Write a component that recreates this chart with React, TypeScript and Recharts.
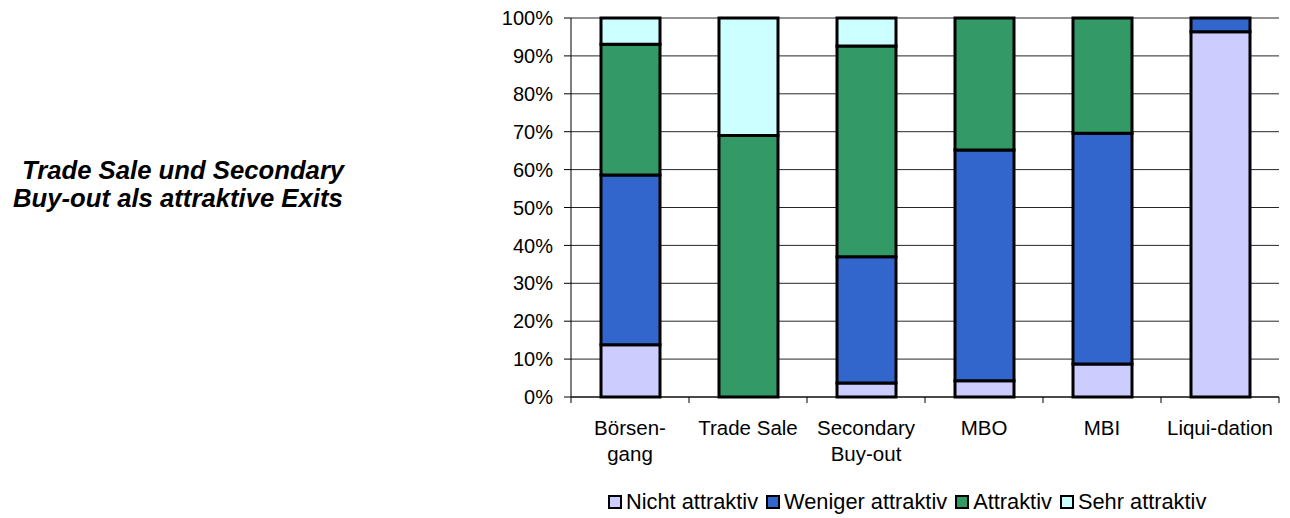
import { BarChart, Bar, XAxis, YAxis, CartesianGrid, Legend } from "recharts"

const categories = ["Börsen-\ngang", "Trade Sale", "Secondary\nBuy-out", "MBO", "MBI", "Liqui-dation"]
const nichtAttraktiv = [13.8, 0, 3.7, 4.3, 8.7, 96.4]
const wenigerAttraktiv = [44.8, 0, 33.3, 60.9, 60.9, 3.6]
const attraktiv = [34.5, 69.0, 55.6, 34.8, 30.4, 0]
const sehrAttraktiv = [6.9, 31.0, 7.4, 0, 0, 0]
const yTicks = [0, 10, 20, 30, 40, 50, 60, 70, 80, 90, 100]

const seriesKeys = ["nicht", "weniger", "attraktiv", "sehr"]
const seriesNames = ["Nicht attraktiv", "Weniger attraktiv", "Attraktiv", "Sehr attraktiv"]
const seriesColors = ["#CCCCFF", "#3366CC", "#339966", "#CCFFFF"]
const titleLines = ["Trade Sale und Secondary", "Buy-out als attraktive Exits"]

const data = categories.map((name, i) => ({
  name,
  nicht: nichtAttraktiv[i],
  weniger: wenigerAttraktiv[i],
  attraktiv: attraktiv[i],
  sehr: sehrAttraktiv[i],
}))

const font = "'Liberation Sans', Arial, sans-serif"

const chartWidth = 1282
const chartHeight = 510
const margin = { top: 10, right: 11, left: 503, bottom: 0 }
const yAxisWidth = 60
const plotWidth = chartWidth - margin.left - margin.right - yAxisWidth
const band = plotWidth / categories.length

function CategoryTick(props: any) {
  const { x, y, payload, index } = props
  const lines = String(payload.value).split("\n")
  const left = x - band / 2
  return (
    <g>
      <line x1={left} x2={left} y1={y} y2={y + 6} stroke="#000" />
      {index === categories.length - 1 && (
        <line x1={left + band} x2={left + band} y1={y} y2={y + 6} stroke="#000" />
      )}
      <text x={x} y={y + 38} textAnchor="middle" fill="#000" fontSize={20.5} fontFamily={font}>
        {lines.map((l, i) => (
          <tspan key={i} x={x} dy={i === 0 ? 0 : 25.5}>
            {l}
          </tspan>
        ))}
      </text>
    </g>
  )
}

function LegendContent() {
  return (
    <div style={{ display: "flex", alignItems: "center", whiteSpace: "nowrap", fontFamily: font, fontSize: 21.8, lineHeight: "24px", color: "#000" }}>
      {seriesNames.map((n, i) => (
        <span key={n} style={{ display: "flex", alignItems: "center", marginRight: 8 }}>
          <span style={{ width: 10, height: 10, border: "2.5px solid #000", background: seriesColors[i], marginRight: 4 }} />
          {n}
        </span>
      ))}
    </div>
  )
}

export default function App() {
  return (
    <div style={{ position: "relative", width: chartWidth, height: chartHeight }}>
      <svg width={420} height={260} style={{ position: "absolute", left: 0, top: 0 }}>
        <text x={14} y={171} fontFamily={font} fontSize={25.7} fontWeight="bold" fontStyle="italic" fill="#000">
          {titleLines[0]}
        </text>
        <text x={5} y={199} fontFamily={font} fontSize={25.7} fontWeight="bold" fontStyle="italic" fill="#000">
          {titleLines[1]}
        </text>
      </svg>
      <BarChart width={chartWidth} height={chartHeight} data={data} margin={margin} barSize={59}>
        <CartesianGrid vertical={false} stroke="#000" strokeOpacity={0.85} />
        <XAxis
          dataKey="name"
          interval={0}
          height={121}
          tickLine={false}
          tickSize={0}
          tickMargin={0}
          axisLine={{ stroke: "#000" }}
          tick={<CategoryTick />}
        />
        <YAxis
          type="number"
          domain={[0, 100]}
          ticks={yTicks}
          interval={0}
          width={yAxisWidth}
          tickFormatter={(v: number) => `${v}%`}
          tickSize={7}
          tickMargin={11}
          axisLine={{ stroke: "#000" }}
          tickLine={{ stroke: "#000" }}
          tick={{ fill: "#000", fontSize: 20, fontFamily: font }}
        />
        <Legend
          verticalAlign="middle"
          align="center"
          content={<LegendContent />}
          wrapperStyle={{ left: 600, top: 482, width: "auto" }}
        />
        {seriesKeys.map((k, i) => (
          <Bar
            key={k}
            dataKey={k}
            name={seriesNames[i]}
            stackId="a"
            fill={seriesColors[i]}
            stroke="#000"
            strokeWidth={3}
            isAnimationActive={false}
          />
        ))}
      </BarChart>
    </div>
  )
}
